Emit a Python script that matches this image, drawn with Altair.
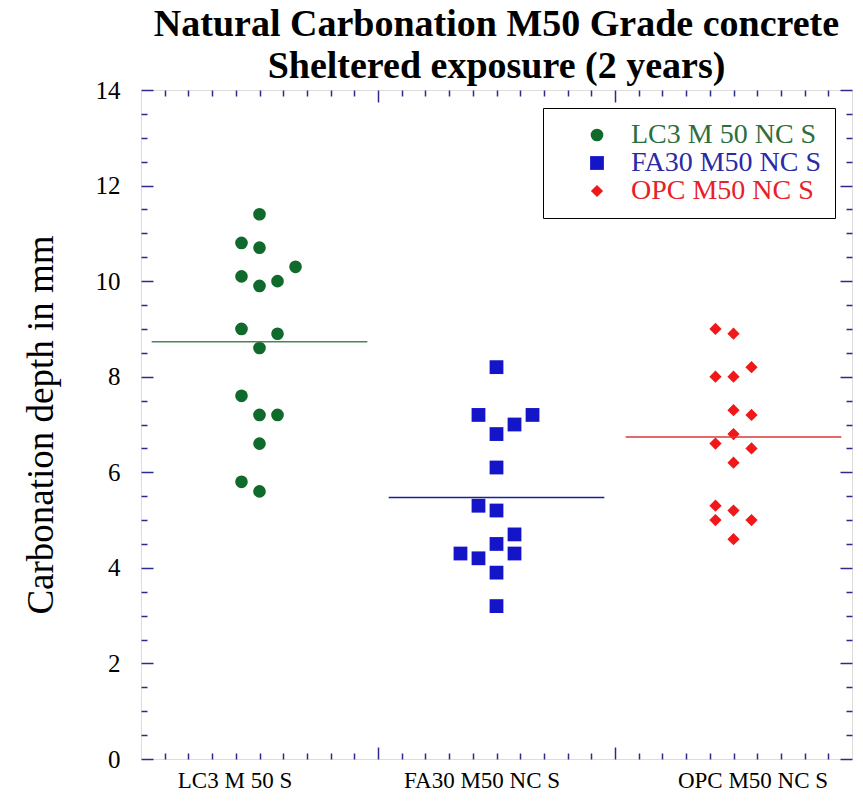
import altair as alt
import pandas as pd
import numpy as np

# ---------------- data ----------------
series_names = ["LC3 M 50 NC S", "FA30 M50 NC S", "OPC M50 NC S"]
axis_labels = ["LC3 M 50 S", "FA30 M50 NC S", "OPC M50 NC S"]

lc3_depth = [11.4, 10.8, 10.7, 10.3, 10.1, 10.0, 9.9, 9.0, 8.9, 8.6, 7.6, 7.2, 7.2, 6.6, 5.8, 5.6]
lc3_slot = [0, -1, 0, 2, -1, 1, 0, -1, 1, 0, -1, 0, 1, 0, -1, 0]

fa30_depth = [8.2, 7.2, 7.2, 7.0, 6.8, 6.1, 5.3, 5.2, 4.7, 4.5, 4.3, 4.3, 4.2, 3.9, 3.2]
fa30_slot = [0, -1, 2, 1, 0, 0, -1, 0, 1, 0, -2, 1, -1, 0, 0]

opc_depth = [9.0, 8.9, 8.2, 8.0, 8.0, 7.3, 7.2, 6.8, 6.6, 6.5, 6.2, 5.3, 5.2, 5.0, 5.0, 4.6]
opc_slot = [-1, 0, 1, -1, 0, 0, 1, 0, -1, 1, 0, -1, 0, -1, 1, 0]

rows = []
for gi, (name, depths, slots) in enumerate(
        zip(series_names, [lc3_depth, fa30_depth, opc_depth], [lc3_slot, fa30_slot, opc_slot]), start=1):
    for d, s in zip(depths, slots):
        rows.append({"series": name, "group": gi, "slot": s, "depth": d})
df = pd.DataFrame(rows)

# ---------------- styles ----------------
NAVY = "#2b2b8c"
FONT = "Liberation Serif"
point_colors = ["#0f6a2c", "#1414c8", "#f01818"]
line_colors = ["#4a8356", "#1c1c9c", "#d83838"]
legend_text_colors = ["#2e6e3e", "#2a2aa6", "#e8202a"]

x_ticks = [float(v) for v in np.round(np.arange(0.6, 3.45, 0.1), 1)]
y_ticks = [float(v) for v in np.arange(0, 14.01, 0.5)]

x_scale = alt.Scale(domain=[0.5, 3.5], nice=False, zero=False)
y_scale = alt.Scale(domain=[0, 14], nice=False)

x_major_test = "abs(datum.value % 1 - 0.5) < 0.01"
y_major_test = "datum.value % 2 == 0"

x_dash = {"condition": {"test": x_major_test, "value": [12, 0]}, "value": [0, 6, 6, 0]}
y_dash = {"condition": {"test": y_major_test, "value": [12, 0]}, "value": [0, 6, 6, 0]}

label_expr = ""
for i, lab in enumerate(axis_labels, start=1):
    label_expr += f"abs(datum.value - {i}) < 0.01 ? '{lab}' : "
label_expr += "''"

label_color_expr = ""
for name, col in zip(series_names, legend_text_colors):
    label_color_expr += f"datum.label == '{name}' ? '{col}' : "
label_color_expr += "'black'"

common_axis = dict(domain=False, offset=-12, tickSize=12, tickWidth=1.5, tickColor=NAVY,
                   grid=False, labelFont=FONT, labelColor="black", labelOverlap=False,
                   labelFlush=False, labelBound=False)

bottom_axis = alt.Axis(orient="bottom", values=x_ticks, labelExpr=label_expr, tickDash=x_dash,
                       labelFontSize=23, labelPadding=10,
                       labelOffset={"condition": [
                           {"test": "abs(datum.value - 1) < 0.01", "value": -25},
                           {"test": "abs(datum.value - 3) < 0.01", "value": 19}],
                           "value": -15},
                       **common_axis)
left_axis = alt.Axis(orient="left", values=y_ticks, tickDash=y_dash,
                     labelExpr="datum.value % 2 == 0 ? format(datum.value, 'd') : ''",
                     labelFontSize=25, labelPadding=21,
                     titleFont=FONT, titleFontSize=37, titleFontWeight="normal", titleColor="black",
                     titlePadding=35, **common_axis)
top_axis = alt.Axis(orient="top", values=x_ticks, tickDash=x_dash, labels=False, **common_axis)
right_axis = alt.Axis(orient="right", values=y_ticks, tickDash=y_dash, labels=False, **common_axis)

legend = alt.Legend(title=None, orient="none", legendX=402, legendY=18, fillColor="white",
                    strokeColor="black", padding=13, symbolOffset=27, labelOffset=20,
                    labelFont=FONT, labelFontSize=28, labelColor=alt.ExprRef(expr=label_color_expr),
                    symbolSize=150, rowPadding=0, symbolStrokeWidth=0, labelLimit=400)

base = alt.Chart(df)

points = base.transform_calculate(
    xpos="datum.group + datum.slot * 0.076"
).mark_point(filled=True, opacity=1, strokeWidth=0).encode(
    x=alt.X("xpos:Q", scale=x_scale, axis=bottom_axis, title=None),
    y=alt.Y("depth:Q", scale=y_scale, axis=left_axis, title="Carbonation depth in mm"),
    color=alt.Color("series:N", scale=alt.Scale(domain=series_names, range=point_colors), legend=legend),
    shape=alt.Shape("series:N", scale=alt.Scale(domain=series_names, range=["circle", "square", "diamond"]),
                    legend=legend),
    size=alt.Size("series:N", scale=alt.Scale(type="ordinal", domain=series_names, range=[160, 190, 150]),
                  legend=None),
)

means = base.transform_aggregate(
    mean_depth="mean(depth)", groupby=["series", "group"]
).transform_calculate(
    x_lo="datum.group - 0.455", x_hi="datum.group + 0.455"
).mark_rule(strokeWidth=1.6).encode(
    x=alt.X("x_lo:Q", scale=x_scale, axis=top_axis, title=None),
    x2="x_hi:Q",
    y=alt.Y("mean_depth:Q", scale=y_scale, axis=right_axis, title=None),
    color=alt.Color("series:N", scale=alt.Scale(domain=series_names, range=line_colors), legend=None),
)

chart = alt.layer(points, means).resolve_scale(
    color="independent", shape="independent", size="independent"
).resolve_axis(
    x="independent", y="independent"
).properties(
    width=711, height=669,
    padding={"left": 141, "top": 90, "right": 11, "bottom": 42},
    autosize=alt.AutoSizeParams(type="none"),
    title=alt.TitleParams(
        text=["Natural Carbonation M50 Grade concrete", "Sheltered exposure (2 years)"],
        font=FONT, fontSize=38, fontWeight="bold", color="black", anchor="middle",
        lineHeight=42, offset=6, dy=14),
).configure_view(stroke=NAVY, strokeWidth=2).configure(background="white")

chart.save("out.html", embed_options={"renderer": "svg", "actions": False})
